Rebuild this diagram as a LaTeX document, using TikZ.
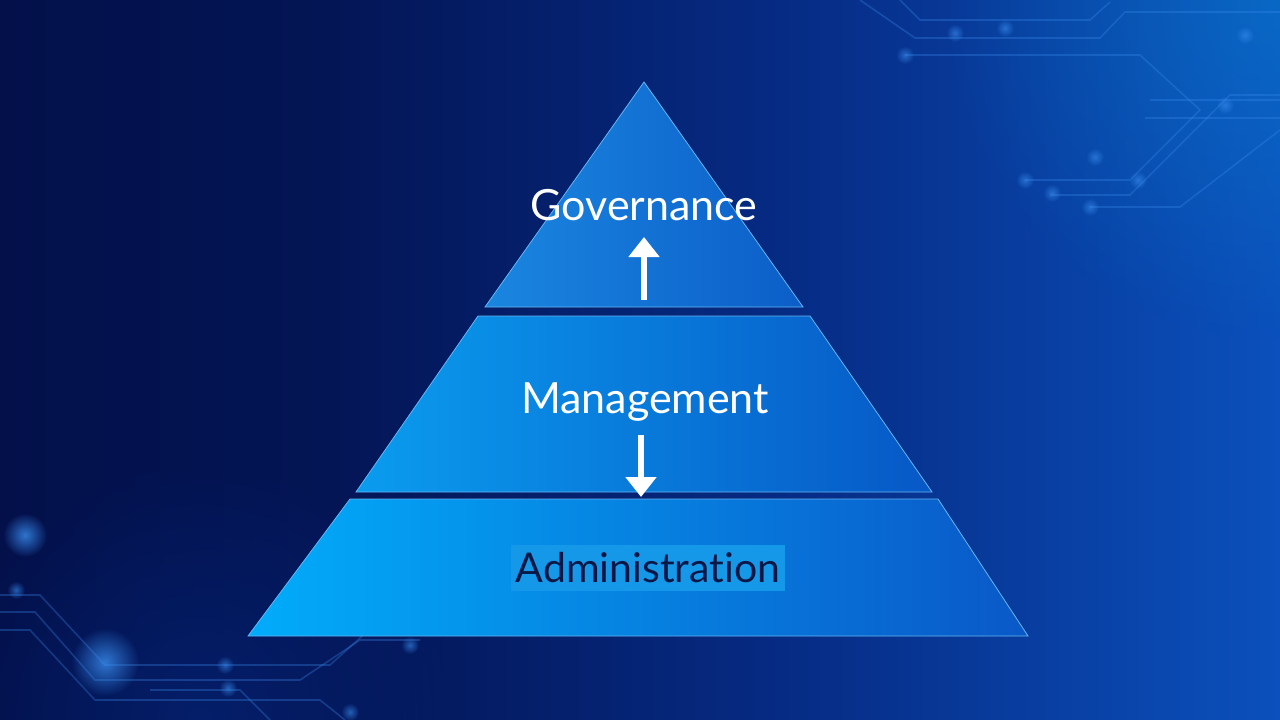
\documentclass[tikz,border=0pt]{standalone}
\usepackage{fontspec}
\setmainfont{Lato}[Ligatures={NoCommon}]
\usetikzlibrary{arrows.meta,fadings}
\definecolor{bgL}{HTML}{03104A}
\definecolor{bgM}{HTML}{062A82}
\definecolor{bgR}{HTML}{0B50BC}
\definecolor{edge}{HTML}{66B6F2}
\definecolor{topL}{HTML}{1A86E0}
\definecolor{topR}{HTML}{0C5EC8}
\definecolor{midL}{HTML}{0A9CEE}
\definecolor{midR}{HTML}{0758C6}
\definecolor{botL}{HTML}{02ACFA}
\definecolor{botR}{HTML}{0A58C8}
\definecolor{hl}{HTML}{1698E8}
\definecolor{navytext}{HTML}{0A1848}
\definecolor{trace}{HTML}{3A8EF0}
\tikzfading[name=glowfade, inner color=transparent!0, outer color=transparent!100]
\pgfdeclarehorizontalshading{bgshade}{100bp}{color(0bp)=(bgL); color(25bp)=(bgL); color(38bp)=(bgL!80!bgM); color(55bp)=(bgM); color(75bp)=(bgR); color(100bp)=(bgR)}
\tikzset{
  tier/.style={draw=edge, line width=0.8pt, line join=miter},
  lbl/.style={font=\fontsize{43}{50}\selectfont, text=white, inner sep=0pt},
  lbldark/.style={font=\fontsize{41}{50}\selectfont, text=navytext, fill=hl, inner xsep=5pt, inner ysep=8pt},
  flowarrow/.style={white, line width=6pt, -{Triangle[width=30pt,length=20pt]}},
  circuit/.style={trace, line width=1.6pt, opacity=0.3},
  glow/.style={fill=trace, opacity=0.6, path fading=glowfade},
}
\begin{document}
\begin{tikzpicture}[x=1pt,y=-1pt]
\useasboundingbox (0,0) rectangle (1280,720);
% background
\shade[shading=bgshade] (0,0) rectangle (1280,720);
\fill[bgR!70!cyan, opacity=0.45, path fading=glowfade] (1280,0) circle (340);
\fill[bgM, opacity=0.5, path fading=glowfade] (200,720) circle (260);
% circuit traces top-right
\draw[circuit] (860,0) -- (915,38) -- (1100,38) -- (1125,12) -- (1280,12);
\draw[circuit] (900,0) -- (920,20) -- (1090,20) -- (1110,2);
\draw[circuit] (905,55) -- (1140,55) -- (1200,110) -- (1130,180) -- (1025,180);
\draw[circuit] (1150,100) -- (1280,100);
\draw[circuit] (1145,118) -- (1280,118);
\draw[circuit] (1050,195) -- (1130,195) -- (1230,95) -- (1280,95);
\draw[circuit] (1090,207) -- (1180,207) -- (1280,130);
\foreach \p in {(955,33),(1005,28),(905,55),(1025,180),(1052,193),(1090,207),(1138,180),(1095,157),(1245,35),(1225,105)}
  \fill[glow] \p circle (9);
% circuit traces bottom-left
\draw[circuit] (0,595) -- (40,595) -- (105,665) -- (330,665) -- (380,620);
\draw[circuit] (0,612) -- (35,612) -- (95,680) -- (300,680) -- (360,640) -- (420,640);
\draw[circuit] (0,630) -- (30,630) -- (95,700) -- (320,700) -- (345,720);
\draw[circuit] (150,690) -- (240,690) -- (270,720);
\foreach \p in {(16,590),(225,665),(228,688),(410,645),(350,712)}
  \fill[glow] \p circle (9);
\fill[trace, opacity=0.8, path fading=glowfade] (25,535) circle (22);
\fill[trace, opacity=0.8, path fading=glowfade] (105,662) circle (34);
% pyramid tiers
\coordinate (apex) at (644,82);
\shade[tier, left color=topL, right color=topR] (apex) -- (803,307) -- (485,307) -- cycle;
\shade[tier, left color=midL, right color=midR] (478,316) -- (810,316) -- (932,492) -- (356,492) -- cycle;
\shade[tier, left color=botL, right color=botR] (350,499) -- (938,499) -- (1028,636) -- (248,636) -- cycle;
% labels
\node[lbl] (gov) at (644,205) {Governance};
\node[lbl] (mgmt) at (645,402) {Management};
\node[lbldark] (adm) at (648,568) {Administration};
% arrows
\coordinate (upfrom) at (644,300);
\coordinate (upto) at (644,237);
\coordinate (dnfrom) at (641,435);
\coordinate (dnto) at (641,497);
\draw[flowarrow] (upfrom) -- (upto);
\draw[flowarrow] (dnfrom) -- (dnto);
\end{tikzpicture}
\end{document}
